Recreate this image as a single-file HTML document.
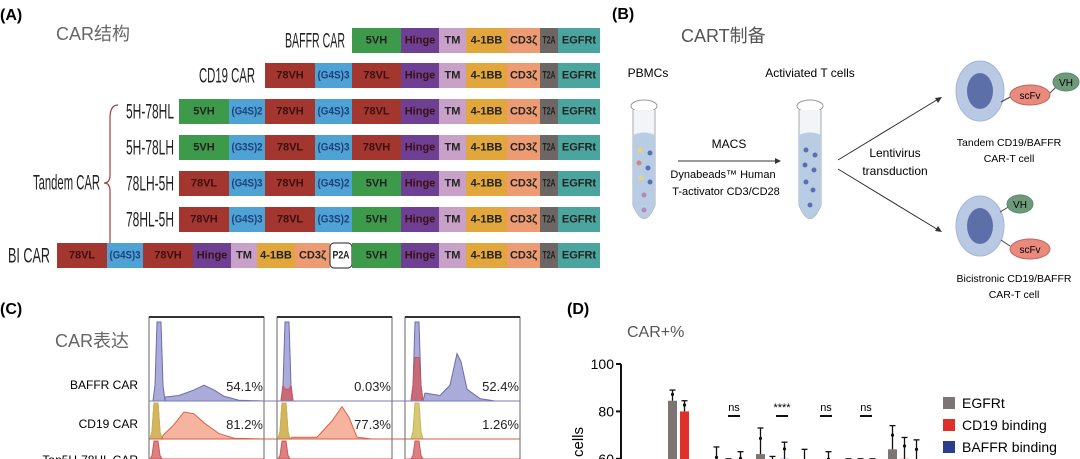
<!DOCTYPE html>
<html><head><meta charset="utf-8">
<style>
body{margin:0;background:#fff;width:1080px;height:459px;overflow:hidden;font-family:"Liberation Sans","Noto Sans CJK SC",sans-serif}
svg{display:block}
svg text{font-family:"Liberation Sans","Noto Sans CJK SC",sans-serif}
.bt{font-weight:bold;font-size:11px;text-anchor:middle;dominant-baseline:central}
.lb{font-size:21px;text-anchor:end;dominant-baseline:central;fill:#222}
</style></head><body>
<svg id="fig" width="1080" height="459" viewBox="0 0 1080 459" overflow="hidden" xmlns="http://www.w3.org/2000/svg">
<g id="pa">
<text x="0" y="20" font-size="16" font-weight="bold">(A)</text>
<text x="56" y="40" font-size="18" fill="#666">CAR结构</text>
<path d="M118,105 Q110,105 110,118 L110,175 Q110,183 104,183 Q110,183 110,191 L110,254 Q110,264 118,264" fill="none" stroke="#a0403a" stroke-width="1.2"/>
<text class="lb" x="100" y="183" textLength="67" lengthAdjust="spacingAndGlyphs">Tandem CAR</text>
</g>
<g>
<text x="612" y="19" font-size="16" font-weight="bold">(B)</text>
<text x="681" y="42" font-size="18" fill="#555">CART制备</text>
<text x="648" y="77" font-size="12" text-anchor="middle">PBMCs</text>
<text x="810" y="77" font-size="12" text-anchor="middle">Activiated T cells</text>
<g>
<ellipse cx="644" cy="106" rx="13" ry="6" fill="none" stroke="#999"/>
<path d="M633,110 L633,205 Q644,232 655,205 L655,110" fill="#f2f4f8" stroke="#aaa"/>
<path d="M633,135 Q644,130 655,135 L655,205 Q644,232 633,205 Z" fill="#b8cde3"/>
<circle cx="640" cy="150" r="2.5" fill="#e6d47a"/><circle cx="650" cy="153" r="2.5" fill="#5a6fb0"/><circle cx="639" cy="163" r="2.5" fill="#d98080"/><circle cx="648" cy="168" r="2.5" fill="#5a6fb0"/><circle cx="641" cy="178" r="2.5" fill="#e6d47a"/><circle cx="650" cy="182" r="2.5" fill="#5a6fb0"/><circle cx="644" cy="195" r="2.5" fill="#b888b8"/><circle cx="644" cy="210" r="2.5" fill="#b888b8"/>
</g>
<g>
<ellipse cx="810" cy="106" rx="13" ry="6" fill="none" stroke="#999"/>
<path d="M799,110 L799,205 Q810,232 821,205 L821,110" fill="#f2f4f8" stroke="#aaa"/>
<path d="M799,135 Q810,130 821,135 L821,205 Q810,232 799,205 Z" fill="#b8cde3"/>
<circle cx="806" cy="150" r="2.5" fill="#5a6fb0"/><circle cx="815" cy="155" r="2.5" fill="#5a6fb0"/><circle cx="805" cy="165" r="2.5" fill="#5a6fb0"/><circle cx="814" cy="170" r="2.5" fill="#5a6fb0"/><circle cx="806" cy="182" r="2.5" fill="#5a6fb0"/><circle cx="813" cy="190" r="2.5" fill="#5a6fb0"/><circle cx="810" cy="205" r="2.5" fill="#5a6fb0"/>
</g>
<line x1="678" y1="161" x2="778" y2="161" stroke="#333"/><path d="M781,161 l-6,-3 v6z" fill="#333"/>
<text x="729" y="148" font-size="12" text-anchor="middle">MACS</text>
<text x="723" y="178" font-size="11" text-anchor="middle">Dynabeads™ Human</text>
<text x="726" y="195" font-size="11" text-anchor="middle">T-activator CD3/CD28</text>
<line x1="838" y1="160" x2="940" y2="98" stroke="#333"/><path d="M942,97 l-7,1 l3,5z" fill="#333"/>
<line x1="838" y1="169" x2="940" y2="231" stroke="#333"/><path d="M942,232 l-7,-1 l3,-5z" fill="#333"/>
<text x="895" y="157" font-size="12" text-anchor="middle">Lentivirus</text>
<text x="895" y="175" font-size="12" text-anchor="middle">transduction</text>
<g>
<ellipse cx="980" cy="91" rx="24" ry="30" fill="#b9c9e4" stroke="#a5b6d4"/><ellipse cx="980" cy="91" rx="13" ry="18" fill="#5d6fa8"/>
<path d="M1001,102 L1012,96" stroke="#444"/><ellipse cx="1030" cy="95" rx="20" ry="10" fill="#e88a7c" stroke="#b66"/><text x="1030" y="99" font-size="10" text-anchor="middle">scFv</text>
<path d="M1050,93 L1058,85" stroke="#444"/><ellipse cx="1066" cy="82" rx="13" ry="9" fill="#6f9a78" stroke="#587"/><text x="1066" y="86" font-size="10" text-anchor="middle">VH</text>
<text x="1009" y="146" font-size="10.5" text-anchor="middle">Tandem CD19/BAFFR</text><text x="1009" y="162" font-size="10.5" text-anchor="middle">CAR-T cell</text>
</g>
<g>
<ellipse cx="980" cy="226" rx="24" ry="30" fill="#b9c9e4" stroke="#a5b6d4"/><ellipse cx="980" cy="226" rx="13" ry="18" fill="#5d6fa8"/>
<path d="M1000,212 L1010,206" stroke="#444"/><ellipse cx="1020" cy="204" rx="13" ry="9" fill="#6f9a78" stroke="#587"/><text x="1020" y="208" font-size="10" text-anchor="middle">VH</text>
<path d="M1001,240 L1010,246" stroke="#444"/><ellipse cx="1030" cy="249" rx="20" ry="10" fill="#e88a7c" stroke="#b66"/><text x="1030" y="253" font-size="10" text-anchor="middle">scFv</text>
<text x="1014" y="282" font-size="10.5" text-anchor="middle">Bicistronic CD19/BAFFR</text><text x="1014" y="298" font-size="10.5" text-anchor="middle">CAR-T cell</text>
</g>
</g>
<g id="pc">
<text x="0" y="314" font-size="16" font-weight="bold">(C)</text>
<text x="55" y="347" font-size="18" fill="#666">CAR表达</text>
<text x="138" y="389" font-size="12" text-anchor="end">BAFFR CAR</text>
<text x="138" y="428" font-size="12" text-anchor="end">CD19 CAR</text>
<text x="138" y="464" font-size="12" text-anchor="end">Tan5H-78HL CAR</text>
</g>
<g id="pd">
<text x="567" y="314" font-size="16" font-weight="bold">(D)</text>
<text x="627" y="337" font-size="16" fill="#555">CAR+%</text>
<text x="0" y="0" font-size="15" transform="translate(583,457) rotate(-90)">cells</text>
<g>
<rect x="943" y="397" width="12" height="12" fill="#7d7573"/><text x="962" y="408" font-size="14">EGFRt</text>
<rect x="943" y="419" width="12" height="12" fill="#e0302a"/><text x="962" y="430" font-size="14">CD19 binding</text>
<rect x="943" y="441" width="12" height="12" fill="#2b3d8f"/><text x="962" y="452" font-size="14">BAFFR binding</text>
</g>
</g>
</svg>
<script>
var NS="http://www.w3.org/2000/svg";
function mk(parent,tag,attrs){var e=document.createElementNS(NS,tag);for(var k in attrs)e.setAttribute(k,attrs[k]);parent.appendChild(e);return e;}
function fit(t,w){var l=t.getComputedTextLength();if(l>w){t.setAttribute('textLength',w);t.setAttribute('lengthAdjust','spacingAndGlyphs');}}
var C={g:"#3d9a4a",r:"#a3362e",b:"#4fa2d4",p:"#6e3f92",tm:"#c8a0c8",bb:"#e1a63c",z:"#ec9b72",t2:"#6c6665",e:"#4aa59f",w:"#ffffff"};
var tail=[["Hinge","p",401,439],["TM","tm",439,466],["4-1BB","bb",466,507],["CD3ζ","z",507,540],["T2A","t2",540,558],["EGFRt","e",558,600]];
var rows=[
 {n:"BAFFR CAR",lx:345,w:60,y:28,b:[["5VH","g",352,401]]},
 {n:"CD19 CAR",lx:255,w:56,y:63,b:[["78VH","r",265,315],["(G4S)3","b",315,352],["78VL","r",352,401]]},
 {n:"5H-78HL",lx:174,w:48,y:99,b:[["5VH","g",179,229],["(G4S)2","b",229,265],["78VH","r",265,315],["(G4S)3","b",315,352],["78VL","r",352,401]]},
 {n:"5H-78LH",lx:174,w:48,y:135,b:[["5VH","g",179,229],["(G3S)2","b",229,265],["78VL","r",265,315],["(G4S)3","b",315,352],["78VH","r",352,401]]},
 {n:"78LH-5H",lx:174,w:48,y:171,b:[["78VL","r",179,229],["(G4S)3","b",229,265],["78VH","r",265,315],["(G4S)2","b",315,352],["5VH","g",352,401]]},
 {n:"78HL-5H",lx:174,w:48,y:207,b:[["78VH","r",179,229],["(G4S)3","b",229,265],["78VL","r",265,315],["(G3S)2","b",315,352],["5VH","g",352,401]]},
 {n:"BI CAR",lx:50,w:42,y:243,b:[["78VL","r",57,107],["(G4S)3","b",107,143],["78VH","r",143,193],["Hinge","p",193,231],["TM","tm",231,257],["4-1BB","bb",257,295],["CD3ζ","z",295,330],["P2A","w",330,352],["5VH","g",352,401]]}
];
var pa=document.getElementById('pa');
rows.forEach(function(r){
 var g=mk(pa,'g',{});
 
 
 var t=mk(g,'text',{x:r.lx,y:r.y+13,'class':'lb',textLength:r.w,lengthAdjust:'spacingAndGlyphs'});t.textContent=r.n;
 
 
 r.b.concat(tail).forEach(function(s){
  var h=25;
  var rc=mk(g,'rect',{x:s[2],y:r.y,width:s[3]-s[2],height:h,fill:C[s[1]]});
  if(s[1]=='w'){rc.setAttribute('stroke','#222');rc.setAttribute('rx','4');}
  
  
  var col=s[1]=='b'?'#1f3f7a':'#222';
  if(s[1]=='r'||s[1]=='p')col='#3a1010';
  var tx=mk(g,'text',{x:(s[2]+s[3])/2,y:r.y+h/2,'class':'bt',fill:col,'font-size':(s[1]=='b'?9.5:11)});
  tx.textContent=s[0];
  
  
  fit(tx,(s[3]-s[2])-5);
 });
});
var pc=document.getElementById('pc');
var panelsX=[149,277,405], pw=115;
var pcts=[["54.1%","0.03%","52.4%"],["81.2%","77.3%","1.26%"]];
var rowBase=[401,439,459];
panelsX.forEach(function(x,i){
 var f=mk(pc,'rect',{x:x,y:317,width:pw,height:145,fill:'none',stroke:'#666','stroke-width':1});
 
 
 mk(pc,'line',{x1:x,y1:317,x2:x+pw,y2:317,stroke:'#333','stroke-width':2});
});
function hist(x0,base,top,pts,fill,stroke){
 var d='M'+x0+','+base;
 pts.forEach(function(p){d+=' L'+(x0+p[0])+','+(base-(base-top)*p[1]);});
 d+=' L'+(x0+pw)+','+base+'Z';
 var p=mk(pc,'path',{d:d,fill:fill,stroke:stroke,'stroke-width':1,'fill-opacity':0.75});
 
 
}
var B='#8f8fcc',Bs='#6b6bb0',O='#f39b7f',Os='#d9604a',Y='#c7b64a',R='#d0555a';
var spike=function(c,h){return [[c-6,0],[c-4,0.2],[c-2,h],[c+2,h],[c+4,0.2],[c+6,0]];};
hist(149,401,322,spike(10,1).concat([[16,0.05],[30,0.07],[45,0.14],[55,0.2],[65,0.14],[75,0.06],[90,0.01]]),B,Bs);
hist(277,401,322,spike(10,1).concat([[20,0.0]]),B,Bs);
hist(405,401,322,spike(12,1).concat([[20,0.1],[35,0.07],[45,0.2],[52,0.6],[56,0.5],[62,0.15],[75,0.03],[90,0]]),B,Bs);
hist(405,401,322,spike(12,0.55),R,R);
hist(277,401,322,spike(10,0.15),R,R);
hist(149,439,403,spike(7,1).concat([[14,0.1],[25,0.4],[35,0.75],[45,0.7],[55,0.45],[70,0.15],[85,0.02]]),O,Os);
hist(149,439,403,spike(7,1),Y,Y);
hist(277,439,403,spike(7,1).concat([[15,0.05],[40,0.05],[55,0.5],[65,0.9],[72,0.6],[80,0.05],[95,0]]),O,Os);
hist(277,439,403,spike(7,1),Y,Y);
hist(405,439,403,spike(12,1),Y,Y);
hist(149,459,441,spike(7,1),R,R);hist(277,459,441,spike(7,1),R,R);hist(405,459,441,spike(12,1),R,R);
mk(pc,'line',{x1:149,y1:401,x2:520,y2:401,stroke:'#7a7ab8'});
mk(pc,'line',{x1:149,y1:439,x2:520,y2:439,stroke:'#d0604a'});
pcts.forEach(function(r,ri){r.forEach(function(t,ci){
 var e=mk(pc,'text',{x:panelsX[ci]+pw-1,y:rowBase[ri]-10,'font-size':13,'text-anchor':'end',fill:'#222'});e.textContent=t;
 
 
});});
var categories=["BAFFR","CD19","5H-78HL","5H-78LH","78LH-5H","78HL-5H","BI"];
var egfrtVals=[56,84.5,54,62,52,54,64];
var cd19Vals=[40,80,52,55,50,53,60];
var baffrVals=[52,2,56,60,55,56,58];
var egfrtErr=[4,4.5,11,11,12,6,10];
var cd19Err=[4,4.5,8,6,8,7,9];
var baffrErr=[4,1,7,7,8,4,10];
var sigLabels=["ns","****","ns","ns"];
var yTicks=[60,80,100];
var pd=document.getElementById('pd');
var y=function(v){return 364+(100-v)*2.37;};
var groupX=function(i){return 670+(i-1)*44;};
mk(pd,'line',{x1:621,y1:364,x2:621,y2:459,stroke:'#111','stroke-width':2});
yTicks.forEach(function(t){
 mk(pd,'line',{x1:616,y1:y(t),x2:621,y2:y(t),stroke:'#111','stroke-width':2});
 var e=mk(pd,'text',{x:614,y:y(t)+5,'font-size':14,'text-anchor':'end'});e.textContent=t;
 
 
});
var series=[[egfrtVals,egfrtErr,'#7d7573'],[cd19Vals,cd19Err,'#e0302a'],[baffrVals,baffrErr,'#2b3d8f']];
categories.forEach(function(c,i){
 if(i==0)return;
 series.forEach(function(s,k){
  var x=groupX(i)+k*12-2, v=s[0][i], e=s[1][i];
  var r=mk(pd,'rect',{x:x,y:y(v),width:9,height:Math.max(0,459-y(v)),fill:s[2]});
  
  
  var cx=x+4.5;
  mk(pd,'line',{x1:cx,y1:y(v+e),x2:cx,y2:y(v),stroke:'#111','stroke-width':1.3});
  mk(pd,'line',{x1:cx-3,y1:y(v+e),x2:cx+3,y2:y(v+e),stroke:'#111','stroke-width':1.3});
  mk(pd,'circle',{cx:cx,cy:y(v+e*0.6),r:1.6,fill:'#111'});
 });
});
sigLabels.forEach(function(s,i){
 var cx=[734,782,826,866][i];
 var e=mk(pd,'text',{x:cx,y:411,'font-size':11,'text-anchor':'middle'});e.textContent=s;
 
 
 mk(pd,'line',{x1:cx-6,y1:416,x2:cx+6,y2:416,stroke:'#111','stroke-width':2});
});
</script>
</body></html>
